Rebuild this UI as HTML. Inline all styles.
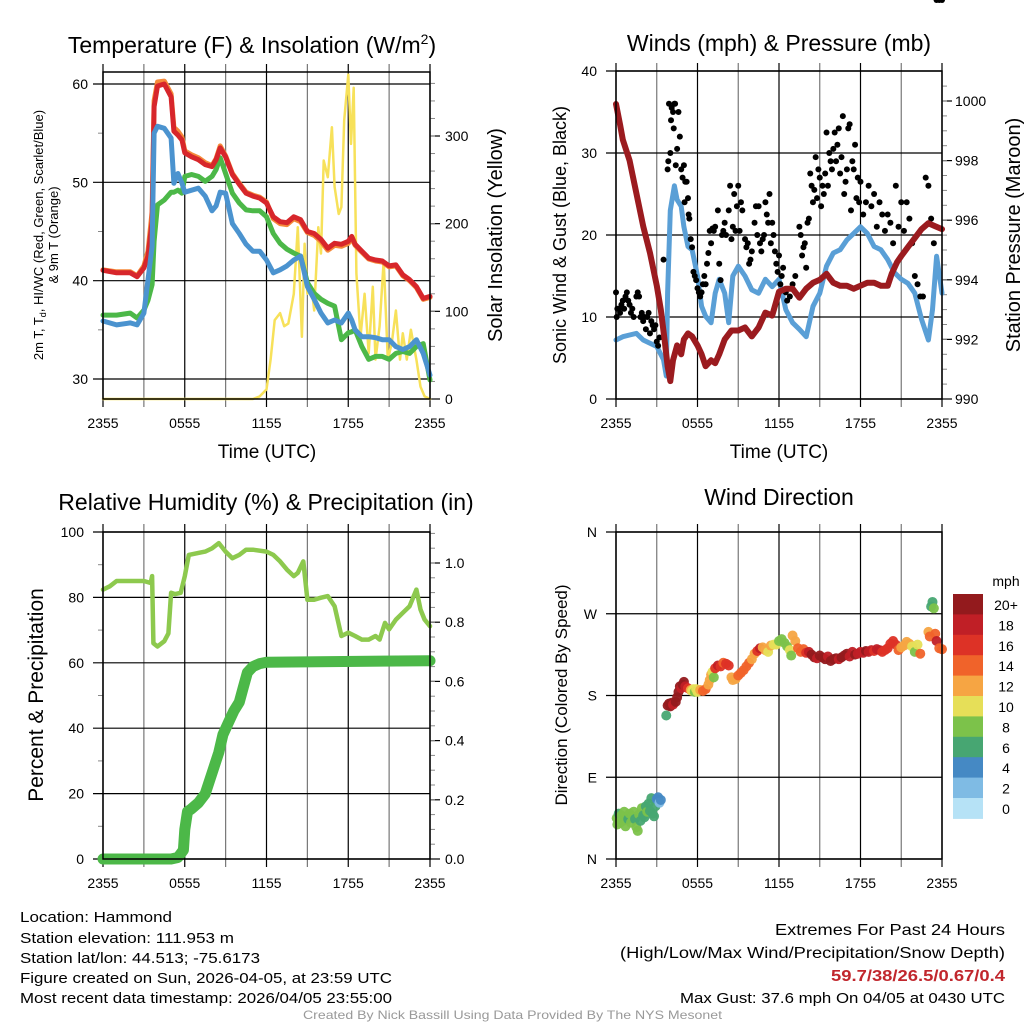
<!DOCTYPE html>
<html><head><meta charset="utf-8"><style>
body{margin:0;background:#fff;overflow:hidden;}
svg{display:block;font-family:"Liberation Sans",Arial,sans-serif;}
</style></head><body>
<svg id="c" width="1024" height="1024" viewBox="0 0 1024 1024">
<rect width="1024" height="1024" fill="#fff"/>
<g id="bg"></g><g id="marks"></g><g id="fg"></g>
<g font-size="23" text-anchor="middle" fill="#000">
<text x="252" y="53">Temperature (F) &amp; Insolation (W/m<tspan dy="-9" font-size="14">2</tspan><tspan dy="9">)</tspan></text>
<text x="779" y="51">Winds (mph) &amp; Pressure (mb)</text>
<text x="266" y="510">Relative Humidity (%) &amp; Precipitation (in)</text>
<text x="779" y="505">Wind Direction</text>
</g>
<g font-size="19" text-anchor="middle">
<text x="267" y="458">Time (UTC)</text>
<text x="779" y="458">Time (UTC)</text>
<text transform="translate(43,235) rotate(-90)" font-size="13">2m T, T<tspan dy="3" font-size="9">d</tspan><tspan dy="-3">, HI/WC (Red, Green, Scarlet/Blue)</tspan></text>
<text transform="translate(58,235) rotate(-90)" font-size="13">&amp; 9m T (Orange)</text>
<text transform="translate(502,235) rotate(-90)" font-size="20">Solar Insolation (Yellow)</text>
<text transform="translate(566,235) rotate(-90)" font-size="18">Sonic Wind &amp; Gust (Blue, Black)</text>
<text transform="translate(1020,235) rotate(-90)" font-size="20">Station Pressure (Maroon)</text>
<text transform="translate(43,695) rotate(-90)" font-size="21">Percent &amp; Precipitation</text>
<text transform="translate(567,695) rotate(-90)" font-size="17">Direction (Colored By Speed)</text>
</g>
<g font-size="15" fill="#000">
<text x="20" y="922" textLength="152" lengthAdjust="spacingAndGlyphs">Location: Hammond</text>
<text x="20" y="943" textLength="214" lengthAdjust="spacingAndGlyphs">Station elevation: 111.953 m</text>
<text x="20" y="963" textLength="240" lengthAdjust="spacingAndGlyphs">Station lat/lon: 44.513; -75.6173</text>
<text x="20" y="983" textLength="372" lengthAdjust="spacingAndGlyphs">Figure created on Sun, 2026-04-05, at 23:59 UTC</text>
<text x="20" y="1003" textLength="372" lengthAdjust="spacingAndGlyphs">Most recent data timestamp: 2026/04/05 23:55:00</text>
<text x="775" y="935" font-size="16" textLength="230" lengthAdjust="spacingAndGlyphs">Extremes For Past 24 Hours</text>
<text x="620" y="958" font-size="16" textLength="385" lengthAdjust="spacingAndGlyphs">(High/Low/Max Wind/Precipitation/Snow Depth)</text>
<text x="831" y="981" font-size="16" font-weight="bold" fill="#c1272d" textLength="174" lengthAdjust="spacingAndGlyphs">59.7/38/26.5/0.67/0.4</text>
<text x="680" y="1003" textLength="325" lengthAdjust="spacingAndGlyphs">Max Gust: 37.6 mph On 04/05 at 0430 UTC</text>
<text x="303" y="1019" font-size="12" fill="#999" textLength="419" lengthAdjust="spacingAndGlyphs">Created By Nick Bassill Using Data Provided By The NYS Mesonet</text>
</g>
</svg>
<script>
// ---------- data ----------
const xTickLabels=["2355","0555","1155","1755","2355"];
const tHours=[0,1,2,2.5,3,3.3,3.6,3.75,4,4.5,5,5.2,5.5,5.8,6,6.5,7,7.5,8,8.3,8.6,9,9.5,10,10.5,11,11.5,12,12.5,13,13.5,14,14.5,15,15.5,16,16.5,17,17.5,18,18.25,18.5,19,19.5,20,20.5,21,21.5,22,22.5,23,23.5,24];
const tempRed=[41.05,40.8,40.8,40.4,41.3,42.5,46,57.7,59.8,60,58.7,55.2,54.8,54.3,53,52.6,52.3,51.8,51.6,52.3,53.5,52.6,50.8,49.8,48.9,48.6,48.4,47.9,46.5,46,45.9,46.5,46.2,45,44.8,44.2,43.3,43.8,43.7,44,44.5,43.7,43,42.3,42.1,42,41.5,41.6,40.6,40.1,39.4,38.2,38.4];
const temp9mOrange=[41.1,40.9,40.9,40.5,41.5,43,47,58.3,60.2,60.3,59,55.6,55.2,54.6,53.2,52.8,52.5,52,51.7,52.4,53.7,52.7,50.9,49.9,49,48.7,48.5,48,46.3,45.8,45.7,46.3,46,44.9,44.6,44,43.1,43.6,43.5,43.8,44.3,43.6,42.9,42.2,42,41.9,41.4,41.5,40.5,40,39.3,38.1,38.3];
const dewGreen=[36.5,36.5,36.7,36.2,37,38,39.6,44,47.7,48.2,49,49,49.2,48.9,50.6,50.8,50.6,50.1,50.6,51.3,52.5,50.9,48.9,47.9,47.2,47.1,47.1,46.5,44.8,43.8,43.2,42.8,42.5,39.8,38.7,38.1,37.7,37.4,34,34.7,34.8,35,33.3,32,32.3,32.3,32,32.6,32.8,32.6,33.3,33.6,29.9];
const hiwcBlue=[35.9,35.5,35.7,35.5,36.7,40.1,43.5,55,55.7,55.5,54.5,49.9,50.9,49.9,49,49.2,49.4,48.6,47.1,47.6,49,48.9,45.8,44.8,43.7,43,43,42.1,40.8,41.1,41.5,42.1,42.5,39.4,38.1,36.7,35.7,36,35.7,36.7,36,35,34.3,34.3,34.2,34,34,33.3,33,33.3,34,32.6,30.4];
const solHours=[0,11,11.5,12,12.3,12.6,13,13.3,13.6,14,14.3,14.6,14.8,15,15.3,15.5,15.8,16,16.2,16.5,16.8,17,17.3,17.5,17.7,18,18.2,18.4,18.6,18.9,19.2,19.5,19.8,20,20.3,20.6,20.9,21.2,21.5,21.8,22,22.3,22.6,23,23.3,23.6,24];
const solar=[0,0,3,11,45,90,98,83,86,120,196,71,177,120,128,101,196,166,272,253,310,242,211,219,318,370,291,355,143,71,120,52,128,45,83,158,45,64,101,45,75,45,79,45,14,3,0];
const windHours=[0,0.5,1,1.5,2,2.5,3,3.5,3.7,3.8,4,4.3,4.5,4.8,5,5.3,5.6,6,6.3,6.6,7,7.3,7.6,8,8.3,8.6,9,9.5,10,10.5,11,11.5,12,12.5,13,13.5,14,14.5,15,15.5,16,16.5,17,17.5,18,18.5,19,19.5,20,20.5,21,21.5,22,22.5,23,23.3,23.6,24];
const sonicWind=[7.2,7.6,7.8,8,7.2,6.8,6.4,4.8,2.8,12.9,23,26,24.3,23.5,21,18.6,18.2,15,11.3,10.1,9.3,12.9,14.6,12.9,9.3,15,16.2,15,13.3,12.9,14.6,13.7,14.6,10.9,9.3,8.5,7.6,11.3,12.9,16.2,17.8,18.2,19.4,20.2,21,20.2,18.6,18.2,17,15.4,14.6,14.1,12.9,9.7,7.2,10.9,17.4,12.9];
const gustHours=[0,0.05,0.1,0.2,0.3,0.4,0.5,0.6,0.7,0.8,0.9,1,1.1,1.2,1.3,1.5,1.6,1.7,1.8,1.9,2,2.1,2.2,2.3,2.4,2.5,2.6,2.7,2.8,2.9,3,3.1,3.2,3.5,3.8,3.85,3.9,4,4.05,4.1,4.2,4.25,4.3,4.35,4.4,4.5,4.6,4.7,4.8,4.9,5,5.05,5.1,5.2,5.3,5.35,5.4,5.5,5.6,5.7,5.8,5.9,6,6.1,6.2,6.3,6.4,6.5,6.6,6.7,6.8,6.9,7,7.1,7.2,7.3,7.5,7.6,7.7,7.8,7.9,8,8.1,8.3,8.4,8.5,8.6,8.7,8.8,8.9,9,9.1,9.2,9.3,9.5,9.6,9.7,9.8,9.9,10,10.2,10.3,10.4,10.5,10.6,10.7,10.8,10.9,11,11.1,11.2,11.3,11.4,11.5,11.6,11.7,11.8,11.9,12,12.1,12.2,12.3,12.5,12.6,12.8,13,13.2,13.5,13.6,13.7,13.8,13.9,14,14.1,14.2,14.3,14.4,14.5,14.6,14.7,14.8,14.9,15,15.1,15.2,15.3,15.4,15.5,15.6,15.7,15.8,15.9,16,16.1,16.2,16.3,16.4,16.5,16.6,16.7,16.8,16.9,17,17.1,17.2,17.3,17.4,17.5,17.6,17.7,17.8,17.9,18,18.2,18.4,18.6,18.8,19,19.2,19.4,19.6,19.8,20,20.2,20.4,20.6,20.8,21,21.2,21.4,21.6,21.8,22,22.2,22.4,22.6,22.8,23,23.2,23.4,23.6,23.8,24];
const gust=[13,10,11,11,10.5,11.5,12,11,12.5,13,12,11.5,10.5,11,10,12.5,13,12.5,10,10.5,9.5,10,8.5,10,10.5,8,9.5,9,8.5,9,7,6.5,7.5,17,28,29,36,30,34,35.5,35,33,36,36,28.5,30.5,35,32,28,27,28.5,24,26.5,26.5,24.5,22.5,22,19.5,18.5,15.5,15,14.5,13.5,13,12.5,13,14,15,14,16.5,17.8,20.5,19,20.8,20.5,21,23,16.5,14.5,20,20.5,21.5,20,23,26,19.5,21,25,20.5,23.5,26,20.5,24,23,19.5,18.5,19,16.5,17,18,21.5,23.5,20,23.5,19,18,19.5,20,24,22.5,21.5,25,19,21.5,20,18,16.5,15.5,17.5,14,15,16,13,12,12.5,14,15,21,20,17.5,18.5,19,16,21.5,22,27.5,26,24,25.5,29.5,24.5,28,27,23.5,26,25,27.5,32.5,26,30,29,28,30.5,32.5,29,31,33,27.5,29.5,34.5,25,26.5,28,33,33.5,23,29,28,31,24.5,27,24,26.5,22.5,24,26,23.5,25,21,24,22.5,20.5,22.5,21.5,19,26,21,24,20.5,24,22,19,15,14,12.5,12.5,27,26,22,19];
const presHours=[0,0.3,0.5,1,1.5,2,2.5,3,3.3,3.6,3.8,4,4.2,4.5,4.8,5,5.3,5.6,6,6.3,6.6,7,7.3,7.6,8,8.5,9,9.5,10,10.5,11,11.5,12,12.5,13,13.5,14,14.5,15,15.5,16,16.5,17,17.5,18,18.5,19,19.5,20,20.3,20.7,21,21.5,22,22.5,23,23.5,24];
const pressure=[999.9,999.2,998.7,998,996.9,995.8,994.9,993.8,993,991.9,991.1,990.6,991.3,991.8,991.5,992,992.2,992.1,991.8,991.5,991.1,991.3,991.2,991.5,992,992.3,992.3,992.4,992.1,992.4,992.9,992.8,993.6,993.7,993.7,993.4,993.7,993.9,994,994.2,993.9,993.8,993.8,993.7,993.8,993.9,993.9,993.8,993.8,994.2,994.6,994.8,995.1,995.4,995.7,995.9,995.8,995.7];
const rhHours=[0,0.5,1,2,3,3.5,3.6,3.7,4,4.5,4.8,5,5.3,5.7,6,6.3,7,7.5,8,8.5,9,9.5,10,10.5,11,12,12.5,13,13.5,14,14.3,14.7,15,15.5,16,16.5,17,17.5,18,18.5,19,19.5,20,20.3,20.7,21,21.5,22,22.5,23,23.3,23.6,24];
const rh=[82.4,83.4,85,85,85,84.4,86.5,66,65,66.6,69,81.4,81,81.4,86.5,93,93.6,94,95,96.6,94,92,93,94.6,94.6,94,93,91,88.5,86.5,87.5,91,79.3,79.3,79.9,80.4,77.3,68.2,69.2,68.2,67.1,67.1,68.2,67.1,72.2,70.2,73.2,75.3,77.3,82.4,76.3,73.2,71.2];
const precipHours=[0,5,5.5,5.9,6,6.2,6.5,7,7.5,8,8.5,8.8,9.2,9.6,10,10.3,10.6,11,11.5,12,24];
const precip=[0,0,0.005,0.03,0.1,0.16,0.17,0.19,0.22,0.29,0.36,0.42,0.46,0.5,0.53,0.58,0.63,0.65,0.66,0.665,0.67];
const dirHours=[0.05,0.1,0.2,0.3,0.4,0.5,0.6,0.7,0.8,0.9,1,1.1,1.2,1.3,1.4,1.5,1.6,1.7,1.8,1.9,2,2.1,2.2,2.3,2.4,2.5,2.6,2.7,2.8,2.9,3,3.1,3.2,3.3,3.7,3.8,3.9,4,4.1,4.2,4.4,4.5,4.6,4.7,4.8,4.9,5,5.1,5.3,5.5,5.6,5.7,5.8,5.9,6,6.2,6.4,6.6,6.8,6.9,7,7.1,7.2,7.3,7.5,7.7,7.9,8.1,8.3,8.5,8.6,8.8,9,9.2,9.4,9.6,9.8,10,10.2,10.4,10.6,10.8,11,11.2,11.4,11.6,11.8,12,12.2,12.4,12.6,12.8,12.9,13,13.2,13.4,13.6,13.8,14,14.2,14.4,14.6,14.8,15,15.2,15.4,15.6,15.8,16,16.2,16.4,16.6,16.8,17,17.2,17.4,17.6,17.8,18,18.2,18.4,18.6,18.8,19,19.2,19.4,19.6,19.8,20,20.2,20.4,20.6,20.8,21,21.2,21.4,21.6,21.8,22,22.2,22.4,23,23.1,23.2,23.3,23.4,23.5,23.6,23.8,24];
const direction=[45,38,50,40,48,42,52,36,46,44,50,40,47,52,44,35,31,49,42,56,48,46,58,52,61,53,67,50,47,58,66,68,62,65,158,169,171,168,172,170,173,178,184,190,188,192,195,190,188,186,185,187,184,187,184,186,185,187,192,197,203,206,200,210,213,212,216,215,213,200,197,198,202,205,208,212,216,220,226,229,232,233,230,228,235,236,236,240,242,238,234,230,224,246,240,232,228,231,227,228,225,222,221,224,222,220,223,218,220,221,220,222,224,226,223,228,225,226,228,227,229,228,230,229,231,230,228,230,232,237,240,236,230,233,235,239,237,234,228,236,226,250,245,278,283,276,248,240,232,231];
const dirSpeed=[8,8,6,8,8,8,8,8,8,6,8,8,8,8,7,8,8,8,6,8,6,6,6,8,6,6,6,6,6,6,4,4,2,4,6,20,20,20,20,18,20,20,20,20,18,20,20,18,16,12,10,10,8,10,10,12,14,14,12,12,12,10,8,16,18,16,14,16,16,12,12,12,14,14,14,14,14,12,12,16,18,12,12,10,12,10,10,8,8,8,8,10,8,12,12,14,14,14,16,18,20,20,18,20,20,20,18,20,20,20,18,20,20,20,18,18,20,18,18,18,20,18,18,16,18,18,16,16,16,16,16,16,14,12,12,12,12,10,8,10,14,12,14,6,6,8,14,18,14,14];
const speedBins=["0","2","4","6","8","10","12","14","16","18","20+"];
const speedColors=["#b6e2f6","#7fbbe4","#4589c4","#47a672","#7cc24a","#e6df58","#f6a543","#f0632a","#dd3226","#c01f26","#931a1d"];

// ---------- helpers ----------
const NS="http://www.w3.org/2000/svg";
const bg=document.getElementById('bg'),marks=document.getElementById('marks'),fg=document.getElementById('fg');
function el(tag,attrs,parent,txt){const e=document.createElementNS(NS,tag);for(const k in attrs)e.setAttribute(k,attrs[k]);if(txt!==undefined)e.textContent=txt;parent.appendChild(e);return e;}
const S=(d0,d1,p0,p1)=>v=>p0+(v-d0)*(p1-p0)/(d1-d0);
function linePath(xs,ys,fx,fy){return xs.map((h,i)=>(i?'L':'M')+fx(h).toFixed(1)+','+fy(ys[i]).toFixed(1)).join('');}

function frame(name,L,R,T,B,leftVals,leftLabels,fyL,rightVals,rightLabels,fyR,leftX,rightX,minorL,minorR){
  const fx=S(0,24,L,R);
  for(let h=0;h<=24;h+=3){
    const g=el('line',{x1:fx(h),x2:fx(h),y1:T-8,y2:B+8,stroke:(h%6===0)?'#000':'#777','stroke-width':1.2},bg);
    
    
  }
  leftVals.forEach((v,i)=>{
    const y=fyL(v);
    const g=el('line',{x1:L-10,x2:R,y1:y,y2:y,stroke:'#000','stroke-width':1.2},bg);
    
    
    const t=el('text',{x:leftX,y:y+5,'text-anchor':'end','font-size':14},fg,leftLabels[i]);
    
    
  });
  (minorL||[]).forEach(v=>{const y=fyL(v);el('line',{x1:L-5,x2:L,y1:y,y2:y,stroke:'#888','stroke-width':1},bg);});
  rightVals.forEach((v,i)=>{
    const y=fyR(v);
    el('line',{x1:R,x2:R+10,y1:y,y2:y,stroke:'#000','stroke-width':1.2},bg);
    const t=el('text',{x:rightX,y:y+5,'text-anchor':'start','font-size':14},fg,rightLabels[i]);
    
    
  });
  (minorR||[]).forEach(v=>{const y=fyR(v);if(y>=T&&y<=B)el('line',{x1:R,x2:R+5,y1:y,y2:y,stroke:'#888','stroke-width':1},bg);});
  const f=el('rect',{x:L,y:T,width:R-L,height:B-T,fill:'none',stroke:'#000','stroke-width':1.5},fg);
  
  
  xTickLabels.forEach((lab,i)=>{
    const t=el('text',{x:fx(i*6),y:B+29,'text-anchor':'middle','font-size':14},fg,lab);
    
    
  });
  return fx;
}
function line(name,xs,ys,fx,fy,color,w){
  const p=el('path',{d:linePath(xs,ys,fx,fy),fill:'none',stroke:color,'stroke-width':w,'stroke-linejoin':'round','stroke-linecap':'round'},marks);
  
  
}
function rng(a,b,s){const r=[];for(let v=a;v<=b+1e-9;v+=s)r.push(+v.toFixed(3));return r;}

// ---------- panel 1 ----------
const yT=S(30,60,379,84), yI=S(0,300,399,136);
const fx1=frame('temperature',103,430,72,399,[30,40,50,60],["30","40","50","60"],yT,[0,100,200,300],["0","100","200","300"],yI,88,445,rng(35,55,10),rng(20,360,20));
line('solar-insolation-line',solHours,solar,fx1,yI,'#f7e15a',2.5);
line('dewpoint-line',tHours,dewGreen,fx1,yT,'#4cb848',5);
line('temp-9m-line',tHours,temp9mOrange,fx1,yT,'#f58a3a',5);
line('temp-2m-line',tHours,tempRed,fx1,yT,'#d7262b',5);
line('heat-index-wind-chill-line',tHours,hiwcBlue,fx1,yT,'#4b93cf',5);

// ---------- panel 2 ----------
const yW=S(0,40,399,71), yP=S(990,1000,399,101);
const fx2=frame('winds',616,942,71,399,[0,10,20,30,40],["0","10","20","30","40"],yW,[990,992,994,996,998,1000],["990","992","994","996","998","1000"],yP,597,955,[],rng(990.5,1000.5,0.5));
line('sonic-wind-line',windHours,sonicWind,fx2,yW,'#5a9fd6',5);
gustHours.forEach((h,i)=>{
  const c=el('circle',{cx:fx2(h),cy:yW(gust[i]),r:3,fill:'#000'},marks);
  
  
});
line('station-pressure-line',presHours,pressure,fx2,yP,'#9b1b1f',6);

// ---------- panel 3 ----------
const yR=S(0,100,859,532), yPr=S(0,1,859,563);
const fx3=frame('humidity',103,430,532,859,[0,20,40,60,80,100],["0","20","40","60","80","100"],yR,[0,0.2,0.4,0.6,0.8,1.0],["0.0","0.2","0.4","0.6","0.8","1.0"],yPr,84,445,rng(10,90,20),rng(0.05,1.1,0.05));
line('relative-humidity-line',rhHours,rh,fx3,yR,'#8dc94e',4.5);
line('precipitation-line',precipHours,precip,fx3,yPr,'#4cb848',11);

// ---------- panel 4 ----------
const yD=S(0,360,859,532);
const fx4=frame('direction',616,942,532,859,[0,90,180,270,360],["N","E","S","W","N"],yD,[],[],yD,597,955);
dirHours.forEach((h,i)=>{
  const idx=Math.min(10,Math.floor(dirSpeed[i]/2));
  const c=el('circle',{cx:fx4(h),cy:yD(direction[i]),r:5,fill:speedColors[idx],'fill-opacity':0.95},marks);
  
  
});
const cbTop=594,cbH=20.4;
const mph=el('text',{x:1006,y:586,'text-anchor':'middle','font-size':14},fg,'mph');


speedBins.slice().reverse().forEach((lab,j)=>{
  const col=speedColors[10-j];
  const r=el('rect',{x:953,y:cbTop+j*cbH,width:30,height:cbH+0.5,fill:col},fg);
  
  
  const t=el('text',{x:1006,y:cbTop+j*cbH+16,'text-anchor':'middle','font-size':14},fg,lab);
  
  
});
</script>
</body></html>
